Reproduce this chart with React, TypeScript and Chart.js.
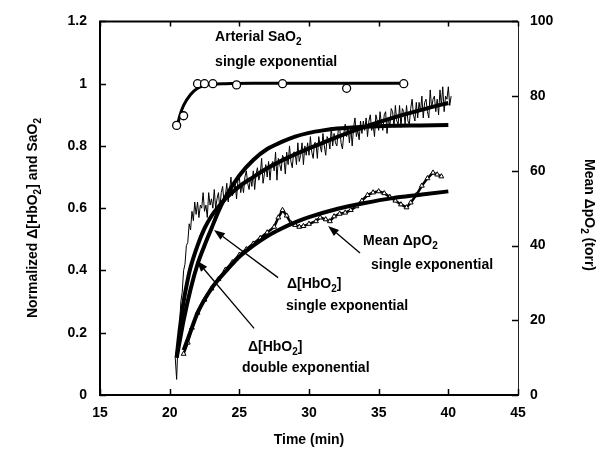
import { useEffect, useRef } from "react";
import { Chart, registerables } from "chart.js";

Chart.register(...registerables);

const FONT = '"Liberation Sans", Arial, Helvetica, sans-serif';

// Arterial SaO2 measurements (open circles)
const saTime = [20.5, 21.0, 22.0, 22.5, 23.1, 24.8, 28.1, 32.7, 36.8];
const saValue = [0.866, 0.897, 1.0, 1.0, 1.0, 0.996, 1.0, 0.985, 1.0];

// Arterial SaO2 single exponential fit
const saFitTime = [20.5, 20.75, 21.0, 21.5, 22.0, 22.5, 23.0, 24.0, 26.0, 30.0, 36.8];
const saFitValue = [0.855, 0.9, 0.93, 0.965, 0.985, 0.994, 0.998, 1.0, 1.001, 1.001, 1.001];

// Raw normalized Δ[HbO2] trace
const hbRawTime = [
  20.4, 20.5, 20.6, 20.7, 20.8, 20.9, 21.0, 21.1, 21.2, 21.3, 21.4, 21.5, 21.6, 21.7, 21.8, 21.9,
  22.0, 22.1, 22.2, 22.3, 22.4, 22.5, 22.6, 22.7, 22.8, 22.9,
  23.0, 23.1, 23.2, 23.3, 23.4, 23.5, 23.6, 23.7, 23.8, 23.9,
  24.0, 24.1, 24.2, 24.3, 24.4, 24.5, 24.6, 24.7, 24.8, 24.9,
  25.0, 25.1, 25.2, 25.3, 25.4, 25.5, 25.6, 25.7, 25.8, 25.9,
  26.0, 26.1, 26.2, 26.3, 26.4, 26.5, 26.6, 26.7, 26.8, 26.9,
  27.0, 27.1, 27.2, 27.3, 27.4, 27.5, 27.6, 27.7, 27.8, 27.9,
  28.0, 28.1, 28.2, 28.3, 28.4, 28.5, 28.6, 28.7, 28.8, 28.9,
  29.0, 29.1, 29.2, 29.3, 29.4, 29.5, 29.6, 29.7, 29.8, 29.9,
  30.0, 30.1, 30.2, 30.3, 30.4, 30.5, 30.6, 30.7, 30.8, 30.9,
  31.0, 31.1, 31.2, 31.3, 31.4, 31.5, 31.6, 31.7, 31.8, 31.9,
  32.0, 32.1, 32.2, 32.3, 32.4, 32.5, 32.6, 32.7, 32.8, 32.9,
  33.0, 33.1, 33.2, 33.3, 33.4, 33.5, 33.6, 33.7, 33.8, 33.9,
  34.0, 34.1, 34.2, 34.3, 34.4, 34.5, 34.6, 34.7, 34.8, 34.9,
  35.0, 35.1, 35.2, 35.3, 35.4, 35.5, 35.6, 35.7, 35.8, 35.9,
  36.0, 36.1, 36.2, 36.3, 36.4, 36.5, 36.6, 36.7, 36.8, 36.9,
  37.0, 37.1, 37.2, 37.3, 37.4, 37.5, 37.6, 37.7, 37.8, 37.9,
  38.0, 38.1, 38.2, 38.3, 38.4, 38.5, 38.6, 38.7, 38.8, 38.9,
  39.0, 39.1, 39.2, 39.3, 39.4, 39.5, 39.6, 39.7, 39.8, 39.9,
  40.0, 40.1, 40.2,
];
const hbRawValue = [
  0.12, 0.05, 0.17, 0.21, 0.3, 0.33, 0.4, 0.42, 0.48, 0.49, 0.55, 0.53, 0.59, 0.56, 0.62, 0.58,
  0.62, 0.57, 0.61, 0.6, 0.65, 0.59, 0.61, 0.57, 0.65, 0.61,
  0.63, 0.6, 0.66, 0.6, 0.63, 0.65, 0.6, 0.65, 0.67, 0.62,
  0.64, 0.68, 0.62, 0.66, 0.7, 0.64, 0.65, 0.68, 0.63, 0.69,
  0.7, 0.65, 0.68, 0.65, 0.7, 0.72, 0.68, 0.66, 0.7, 0.67,
  0.72, 0.66, 0.71, 0.73, 0.69, 0.71, 0.76, 0.68, 0.71, 0.74,
  0.7, 0.75, 0.69, 0.74, 0.75, 0.72, 0.78, 0.69, 0.76, 0.74,
  0.72, 0.77, 0.76, 0.71, 0.78, 0.74, 0.8, 0.75, 0.73, 0.78,
  0.78, 0.74, 0.81, 0.75, 0.77, 0.81, 0.74, 0.8, 0.77, 0.81,
  0.77, 0.83, 0.78, 0.76, 0.81, 0.81, 0.76, 0.83, 0.8, 0.78,
  0.84, 0.8, 0.77, 0.83, 0.82, 0.79, 0.86, 0.8, 0.84, 0.81,
  0.8, 0.85, 0.86, 0.81, 0.79, 0.84, 0.87, 0.83, 0.86, 0.81,
  0.86, 0.8, 0.86, 0.89, 0.83, 0.85, 0.82, 0.88, 0.84, 0.88,
  0.85, 0.89, 0.83, 0.88, 0.9, 0.85, 0.87, 0.83, 0.9, 0.88,
  0.85, 0.91, 0.87, 0.85, 0.9, 0.91, 0.84, 0.89, 0.86, 0.92,
  0.91, 0.86, 0.93, 0.88, 0.87, 0.93, 0.86, 0.92, 0.91, 0.87,
  0.93, 0.88, 0.87, 0.92, 0.95, 0.9, 0.88, 0.94, 0.89, 0.94,
  0.91, 0.96, 0.89, 0.94, 0.95, 0.91, 0.89, 0.98, 0.92, 0.95,
  0.96, 0.91, 0.95, 0.9, 0.98, 0.93, 0.99, 0.91, 0.96, 0.95,
  0.99, 0.93, 0.96,
];

// Δ[HbO2] single exponential fit
const hbSingleTime = [20.5, 20.75, 21.0, 21.5, 22.0, 22.5, 23.0, 23.5, 24.0, 25.0, 26.0, 27.0, 28.0, 29.0, 30.0, 31.0, 32.0, 34.0, 36.0, 38.0, 40.0];
const hbSingleValue = [0.12, 0.18, 0.24, 0.34, 0.42, 0.48, 0.535, 0.59, 0.635, 0.705, 0.755, 0.79, 0.812, 0.83, 0.842, 0.85, 0.856, 0.862, 0.865, 0.866, 0.867];

// Δ[HbO2] double exponential fit
const hbDoubleTime = [20.5, 20.75, 21.0, 21.25, 21.5, 22.0, 22.5, 23.0, 23.5, 24.0, 25.0, 26.0, 27.0, 28.0, 29.0, 30.0, 31.0, 32.0, 33.0, 34.0, 35.0, 36.0, 37.0, 38.0, 39.0, 40.0];
const hbDoubleValue = [0.12, 0.22, 0.3, 0.36, 0.41, 0.48, 0.535, 0.575, 0.605, 0.63, 0.67, 0.7, 0.728, 0.752, 0.773, 0.792, 0.81, 0.828, 0.845, 0.861, 0.876, 0.89, 0.903, 0.915, 0.927, 0.938];

// Mean ΔpO2 (torr) measured
const po2Time = [
  21.0, 21.3, 21.6, 22.0, 22.5, 23.0, 23.5, 24.0, 24.5, 25.0, 25.5, 26.0, 26.5, 27.0, 27.5, 27.8,
  28.1, 28.4, 28.7, 29.0, 29.3, 29.6, 30.0, 30.5, 30.8, 31.2, 31.5, 31.8, 32.2, 32.6, 33.0, 33.4,
  33.8, 34.2, 34.6, 35.0, 35.4, 35.8, 36.2, 36.6, 37.0, 37.3, 37.7, 38.1, 38.5, 38.9, 39.2, 39.5,
];
const po2Value = [
  11, 14, 18, 22, 25.5, 28.5, 31, 33.5, 35.5, 37.5, 39, 40.5, 42, 43.5, 45, 47.5,
  49.5, 48, 46, 45.5, 45, 45.2, 45.8, 46.5, 47.5, 47, 46.5, 47.8, 48.5, 48.8, 49.5, 50.5,
  52, 53.5, 54.2, 54.5, 54, 53, 52, 51, 50.2, 51.5, 53.5, 56, 58, 59.5, 59, 58.5,
];

// Mean ΔpO2 single exponential fit
const po2FitTime = [21.0, 21.5, 22.0, 23.0, 24.0, 25.0, 26.0, 27.0, 28.0, 29.0, 30.0, 32.0, 34.0, 36.0, 38.0, 40.0];
const po2FitValue = [12, 17, 22, 28.5, 33, 37, 40, 42.5, 44.5, 46.2, 47.6, 49.8, 51.4, 52.7, 53.6, 54.5];

const xTicks = [15, 20, 25, 30, 35, 40, 45];
const leftTicks = [0, 0.2, 0.4, 0.6, 0.8, 1, 1.2];
const rightTicks = [0, 20, 40, 60, 80, 100];

const zip = (xs: number[], ys: number[]) => xs.map((x, i) => ({ x, y: ys[i] }));

type Seg = { t: string; sub?: boolean };

function richWidth(ctx: CanvasRenderingContext2D, segs: Seg[], size: number, subSize: number) {
  let w = 0;
  for (const s of segs) {
    ctx.font = `bold ${s.sub ? subSize : size}px ${FONT}`;
    w += ctx.measureText(s.t).width;
  }
  return w;
}

function drawRich(ctx: CanvasRenderingContext2D, segs: Seg[], x: number, y: number, size = 14, subSize = 10) {
  ctx.textAlign = "left";
  ctx.textBaseline = "middle";
  let cx = x;
  for (const s of segs) {
    ctx.font = `bold ${s.sub ? subSize : size}px ${FONT}`;
    ctx.fillText(s.t, cx, s.sub ? y + 5 : y);
    cx += ctx.measureText(s.t).width;
  }
}

const labels: { segs: Seg[]; x: number; y: number }[] = [
  { segs: [{ t: "Arterial SaO" }, { t: "2", sub: true }], x: 23.26, y: 1.149 },
  { segs: [{ t: "single exponential" }], x: 23.26, y: 1.069 },
  { segs: [{ t: "Mean \u0394pO" }, { t: "2", sub: true }], x: 33.88, y: 0.495 },
  { segs: [{ t: "single exponential" }], x: 34.45, y: 0.418 },
  { segs: [{ t: "\u0394[HbO" }, { t: "2", sub: true }, { t: "]" }], x: 28.42, y: 0.357 },
  { segs: [{ t: "single exponential" }], x: 28.35, y: 0.284 },
  { segs: [{ t: "\u0394[HbO" }, { t: "2", sub: true }, { t: "]" }], x: 25.62, y: 0.153 },
  { segs: [{ t: "double exponential" }], x: 25.19, y: 0.086 },
];

const arrows = [
  { from: [33.66, 0.456], to: [31.37, 0.543] },
  { from: [27.78, 0.377], to: [23.18, 0.53] },
  { from: [26.06, 0.214], to: [21.96, 0.431] },
];

const decorPlugin = {
  id: "decor",
  afterDatasetsDraw(chart: any) {
    const ctx: CanvasRenderingContext2D = chart.ctx;
    const { left, right, top, bottom } = chart.chartArea;
    const xs = chart.scales.x;
    const ys = chart.scales.y;
    const y2 = chart.scales.y2;
    ctx.save();
    ctx.fillStyle = "#000";
    ctx.strokeStyle = "#000";

    // frame
    ctx.lineWidth = 2;
    ctx.beginPath();
    ctx.moveTo(left, top);
    ctx.lineTo(right, top);
    ctx.moveTo(left, top - 1);
    ctx.lineTo(left, bottom + 1);
    ctx.moveTo(left - 1, bottom);
    ctx.lineTo(right + 1, bottom);
    ctx.stroke();
    ctx.lineWidth = 1;
    ctx.strokeStyle = "#222";
    ctx.beginPath();
    ctx.moveTo(right + 0.5, top);
    ctx.lineTo(right + 0.5, bottom);
    ctx.stroke();
    ctx.strokeStyle = "#000";

    // inward ticks
    ctx.lineWidth = 1.5;
    ctx.beginPath();
    for (const v of xTicks) {
      const px = Math.round(xs.getPixelForValue(v)) + 0.5;
      ctx.moveTo(px, bottom);
      ctx.lineTo(px, bottom - 6);
      ctx.moveTo(px, top);
      ctx.lineTo(px, top + 5);
    }
    for (const v of leftTicks) {
      const py = Math.round(ys.getPixelForValue(v)) + 0.5;
      ctx.moveTo(left, py);
      ctx.lineTo(left + 6, py);
    }
    for (const v of rightTicks) {
      const py = Math.round(y2.getPixelForValue(v)) + 0.5;
      ctx.moveTo(right, py);
      ctx.lineTo(right - 6, py);
    }
    ctx.stroke();

    // arrows
    ctx.lineWidth = 1.3;
    for (const a of arrows) {
      const x1 = xs.getPixelForValue(a.from[0]);
      const yy1 = ys.getPixelForValue(a.from[1]);
      const x2 = xs.getPixelForValue(a.to[0]);
      const yy2 = ys.getPixelForValue(a.to[1]);
      const ang = Math.atan2(yy2 - yy1, x2 - x1);
      const hl = 11;
      const hw = 4;
      const bx = x2 - hl * Math.cos(ang);
      const by = yy2 - hl * Math.sin(ang);
      ctx.beginPath();
      ctx.moveTo(x1, yy1);
      ctx.lineTo(bx, by);
      ctx.stroke();
      ctx.beginPath();
      ctx.moveTo(x2, yy2);
      ctx.lineTo(bx + hw * Math.sin(ang), by - hw * Math.cos(ang));
      ctx.lineTo(bx - hw * Math.sin(ang), by + hw * Math.cos(ang));
      ctx.closePath();
      ctx.fill();
    }

    // annotation text
    for (const l of labels) {
      drawRich(ctx, l.segs, xs.getPixelForValue(l.x), ys.getPixelForValue(l.y), 14, 10);
    }

    // axis titles
    const leftTitle: Seg[] = [
      { t: "Normalized \u0394[HbO" },
      { t: "2", sub: true },
      { t: "] and SaO" },
      { t: "2", sub: true },
    ];
    ctx.save();
    ctx.translate(33, 218);
    ctx.rotate(-Math.PI / 2);
    const lw = richWidth(ctx, leftTitle, 14, 10);
    drawRich(ctx, leftTitle, -lw / 2, 0, 14, 10);
    ctx.restore();

    const rightTitle: Seg[] = [{ t: "Mean \u0394pO" }, { t: "2", sub: true }, { t: " (torr)" }];
    ctx.save();
    ctx.translate(589, 215);
    ctx.rotate(Math.PI / 2);
    const rw = richWidth(ctx, rightTitle, 14, 10);
    drawRich(ctx, rightTitle, -rw / 2, 0, 14, 10);
    ctx.restore();

    ctx.font = `bold 14px ${FONT}`;
    ctx.textAlign = "center";
    ctx.textBaseline = "middle";
    ctx.fillText("Time (min)", (left + right) / 2, 440);

    ctx.restore();
  },
};

export default function App() {
  const ref = useRef<HTMLCanvasElement | null>(null);
  useEffect(() => {
    if (!ref.current) return;
    const tickFont = { family: FONT, size: 14, weight: "bold" as const };
    const fmt = (v: any) => String(Number(Number(v).toFixed(2)));
    const chart = new Chart(ref.current, {
      type: "scatter",
      data: {
        datasets: [
          {
            label: "SaO2",
            data: zip(saTime, saValue),
            yAxisID: "y",
            showLine: false,
            pointStyle: "circle",
            pointRadius: 4,
            pointBackgroundColor: "#fff",
            pointBorderColor: "#000",
            pointBorderWidth: 1.3,
          },
          {
            label: "SaO2 fit",
            data: zip(saFitTime, saFitValue),
            yAxisID: "y",
            showLine: true,
            borderColor: "#000",
            borderWidth: 3,
            pointRadius: 0,
            cubicInterpolationMode: "monotone",
          },
          {
            label: "HbO2 single",
            data: zip(hbSingleTime, hbSingleValue),
            yAxisID: "y",
            showLine: true,
            borderColor: "#000",
            borderWidth: 4,
            pointRadius: 0,
            cubicInterpolationMode: "monotone",
          },
          {
            label: "HbO2 double",
            data: zip(hbDoubleTime, hbDoubleValue),
            yAxisID: "y",
            showLine: true,
            borderColor: "#000",
            borderWidth: 4,
            pointRadius: 0,
            cubicInterpolationMode: "monotone",
          },
          {
            label: "HbO2 raw",
            data: zip(hbRawTime, hbRawValue),
            yAxisID: "y",
            showLine: true,
            borderColor: "#000",
            borderWidth: 1,
            pointRadius: 0,
          },
          {
            label: "pO2 fit",
            data: zip(po2FitTime, po2FitValue),
            yAxisID: "y2",
            showLine: true,
            borderColor: "#000",
            borderWidth: 4,
            pointRadius: 0,
            cubicInterpolationMode: "monotone",
          },
          {
            label: "pO2",
            data: zip(po2Time, po2Value),
            yAxisID: "y2",
            showLine: true,
            borderColor: "#000",
            borderWidth: 2.5,
            pointStyle: "triangle",
            pointRadius: 2.8,
            pointBackgroundColor: "#fff",
            pointBorderColor: "#000",
            pointBorderWidth: 1,
          },
        ],
      },
      options: {
        responsive: false,
        animation: false,
        devicePixelRatio: 1,
        layout: { padding: { top: 19, left: 0, right: 0, bottom: 0 } },
        plugins: { legend: { display: false }, tooltip: { enabled: false } },
        scales: {
          x: {
            type: "linear",
            min: 15,
            max: 45,
            grid: { display: false, drawTicks: false },
            border: { display: false },
            ticks: { stepSize: 5, color: "#000", font: tickFont, padding: 10, callback: fmt },
            afterFit: (s: any) => {
              s.height = 63;
            },
          },
          y: {
            type: "linear",
            position: "left",
            min: 0,
            max: 1.2,
            grid: { display: false, drawTicks: false },
            border: { display: false },
            ticks: { stepSize: 0.2, color: "#000", font: tickFont, padding: 13, callback: fmt },
            afterFit: (s: any) => {
              s.width = 100;
            },
          },
          y2: {
            type: "linear",
            position: "right",
            min: 0,
            max: 100,
            grid: { display: false, drawTicks: false },
            border: { display: false },
            ticks: { stepSize: 20, color: "#000", font: tickFont, padding: 12, callback: fmt },
            afterFit: (s: any) => {
              s.width = 83;
            },
          },
        },
      },
      plugins: [decorPlugin],
    });
    return () => chart.destroy();
  }, []);
  return (
    <div style={{ position: "absolute", left: 0, top: 0, width: 601, height: 458, background: "#fff" }}>
      <canvas ref={ref} width={601} height={458} />
    </div>
  );
}
